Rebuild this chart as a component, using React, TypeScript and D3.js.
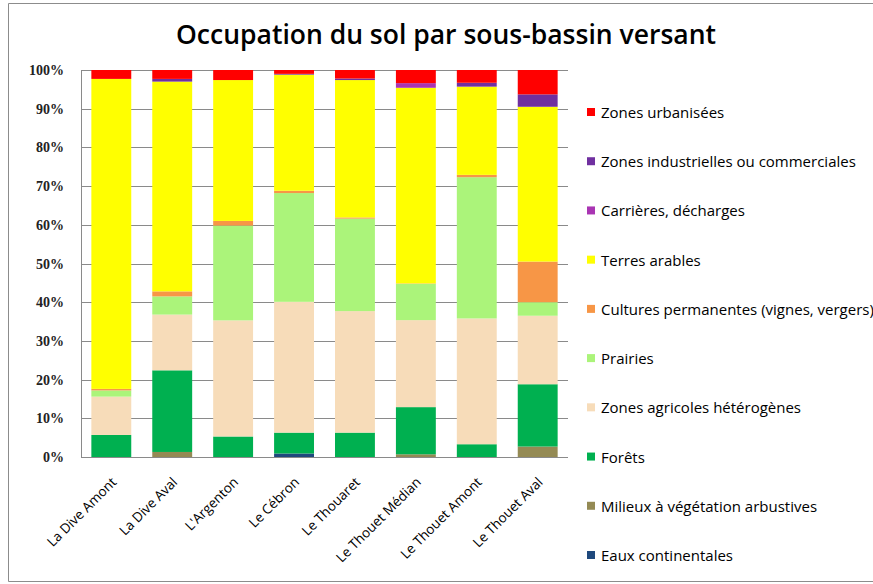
import React from 'react';
import * as d3 from 'd3';

const categories = [
  'La Dive Amont', 'La Dive Aval', "L'Argenton", 'Le Cébron',
  'Le Thouaret', 'Le Thouet Médian', 'Le Thouet Amont', 'Le Thouet Aval',
];

// stacking order, bottom to top
const seriesNames = [
  'Eaux continentales',
  'Milieux à végétation arbustives',
  'Forêts',
  'Zones agricoles hétérogènes',
  'Prairies',
  'Cultures permanentes (vignes, vergers)',
  'Terres arables',
  'Carrières, décharges',
  'Zones industrielles ou commerciales',
  'Zones urbanisées',
];

const seriesColors = [
  '#1f497d', '#948a54', '#00b050', '#f7dcb9', '#abf47a',
  '#f79646', '#ffff00', '#a935b3', '#7030a0', '#ff0000',
];

// values in % per category, same order as categories
const eaux = [0, 0, 0, 0.9, 0, 0, 0, 0];
const milieux = [0, 1.3, 0, 0, 0, 0.7, 0, 2.7];
const forets = [5.7, 21.1, 5.3, 5.4, 6.3, 12.2, 3.3, 16.1];
const zonesAgricoles = [9.9, 14.4, 30.0, 33.8, 31.4, 22.5, 32.5, 17.7];
const prairies = [1.6, 4.7, 24.5, 28.1, 23.9, 9.4, 36.5, 3.5];
const cultures = [0.4, 1.3, 1.2, 0.6, 0.3, 0.1, 0.6, 10.5];
const terresArables = [80.1, 54.2, 36.4, 30.0, 35.5, 50.6, 22.8, 40.0];
const carrieres = [0, 0, 0, 0, 0, 1.2, 0, 0];
const zonesIndus = [0, 0.7, 0, 0.2, 0.4, 0, 1.0, 3.2];
const zonesUrb = [2.3, 2.3, 2.6, 1.0, 2.2, 3.4, 3.3, 6.3];

const seriesValues = [
  eaux, milieux, forets, zonesAgricoles, prairies,
  cultures, terresArables, carrieres, zonesIndus, zonesUrb,
];

const yTicks = [0, 0.1, 0.2, 0.3, 0.4, 0.5, 0.6, 0.7, 0.8, 0.9, 1];

const W = 873;
const H = 584;
const margin = { top: 70, left: 81, right: 305, bottom: 127 };

export default function App() {
  const rows = categories.map((c, i) => {
    const r: Record<string, any> = { cat: c };
    seriesNames.forEach((s, k) => (r[s] = seriesValues[k][i]));
    return r;
  });

  const stacked = d3.stack<any>()
    .keys(seriesNames)
    .offset(d3.stackOffsetExpand)(rows);

  const x = d3.scaleBand()
    .domain(categories)
    .range([margin.left, W - margin.right])
    .paddingInner(0.345)
    .paddingOuter(0.17);

  const y = d3.scaleLinear()
    .domain([0, 1])
    .range([H - margin.bottom, margin.top]);

  const legendOrder = [...seriesNames].reverse();
  const legendY = d3.scalePoint()
    .domain(legendOrder)
    .range([112, 555]);

  const fmt = d3.format('.0%');

  return (
    <svg width={W} height={H} style={{ position: 'absolute', left: 0, top: 0, background: '#fff' }}>
      <path d={`M900,3.5 H8.5 V581.5 H900`} fill="none" stroke="#8c8c8c" strokeWidth={1} />

      <text x={446} y={44} textAnchor="middle"
        style={{ fontFamily: 'Open Sans, sans-serif', fontSize: 26.5, fontWeight: 600 }} fill="#000">
        Occupation du sol par sous-bassin versant
      </text>

      {/* grid */}
      {yTicks.map(t => (
        <line key={t} x1={margin.left} x2={W - margin.right}
          y1={Math.round(y(t)) + 0.5} y2={Math.round(y(t)) + 0.5}
          stroke="#8a8a8a" strokeWidth={1} />
      ))}
      {yTicks.map(t => (
        <text key={'l' + t} x={64} y={y(t) + 5} textAnchor="end"
          style={{ fontFamily: 'Liberation Serif, serif', fontSize: 14, fontWeight: 700 }} fill="#222">
          {fmt(t)}
        </text>
      ))}

      {/* bars */}
      {stacked.map((s, k) => (
        <g key={s.key} fill={seriesColors[k]}>
          {s.map((d, i) => (
            <rect key={i} x={x(categories[i])} width={x.bandwidth()}
              y={y(d[1])} height={Math.max(0, y(d[0]) - y(d[1]))} />
          ))}
        </g>
      ))}

      <line x1={margin.left + 0.5} x2={margin.left + 0.5} y1={y(1)} y2={y(0)} stroke="#8a8a8a" />
      <line x1={margin.left} x2={W - margin.right} y1={Math.round(y(0)) + 0.5} y2={Math.round(y(0)) + 0.5} stroke="#8a8a8a" />

      {/* x labels */}
      {categories.map(c => {
        const cx = (x(c) as number) + x.bandwidth() / 2 + 6;
        const cy = H - margin.bottom + 26;
        return (
          <text key={c} transform={`translate(${cx},${cy}) rotate(-45)`} textAnchor="end"
            style={{ fontFamily: 'Open Sans, sans-serif', fontSize: 13.5 }} fill="#000">
            {c}
          </text>
        );
      })}

      {/* legend */}
      {legendOrder.map(s => {
        const k = seriesNames.indexOf(s);
        const ly = legendY(s) as number;
        return (
          <g key={s}>
            <rect x={587} y={ly - 4} width={8} height={8} fill={seriesColors[k]} />
            <text x={601} y={ly + 6}
              style={{ fontFamily: 'Open Sans, sans-serif', fontSize: 15 }} fill="#000">
              {s}
            </text>
          </g>
        );
      })}
    </svg>
  );
}
